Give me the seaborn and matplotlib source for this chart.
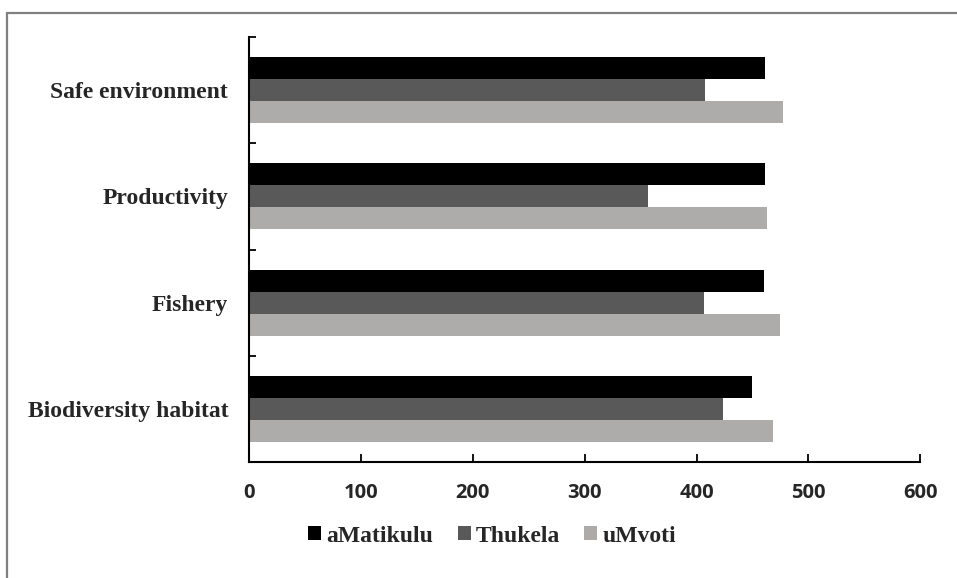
import matplotlib
matplotlib.use("Agg")
import matplotlib.pyplot as plt
from matplotlib.lines import Line2D
from matplotlib.patches import Patch
from matplotlib import font_manager
import seaborn as sns
import pandas as pd

categories = ["Safe environment", "Productivity", "Fishery", "Biodiversity habitat"]
series = ["aMatikulu", "Thukela", "uMvoti"]
amatikulu = [461, 461, 460, 450]
thukela = [408, 357, 407, 424]
umvoti = [477, 463, 475, 468]
x_ticks = [0, 100, 200, 300, 400, 500, 600]
colors = ["#000000", "#595959", "#AEAAAA"]

rows = []
for name, vals in zip(series, [amatikulu, thukela, umvoti]):
    for cat, v in zip(categories, vals):
        rows.append({"Category": cat, "Estuary": name, "Value": v})
df = pd.DataFrame(rows)

sns.set_style("white")
W, H = 957, 578
fig = plt.figure(figsize=(W / 100, H / 100), dpi=100)
ax = fig.add_axes([249 / W, 1 - 462 / H, (920.3 - 249) / W, (462 - 37) / H])

sns.barplot(data=df, y="Category", x="Value", hue="Estuary",
            order=categories, hue_order=series, palette=colors,
            orient="h", width=0.62, gap=0, ax=ax, legend=False,
            edgecolor="none", linewidth=0)

serif_bold = font_manager.FontProperties(family="Liberation Serif", weight="bold", size=17)
sans_bold = font_manager.FontProperties(family="Open Sans", weight="bold", size=14.5)

ax.set_xlim(0, 600)
ax.set_ylim(len(categories) - 0.5, -0.5)
ax.set_xticks(x_ticks)
ax.set_xticklabels([str(t) for t in x_ticks], fontproperties=sans_bold)
ax.set_yticks(range(len(categories)))
ax.set_yticklabels(categories, fontproperties=serif_bold)
ax.set_yticks([i - 0.5 for i in range(len(categories) + 1)], minor=True)
ax.tick_params(axis="y", which="major", length=0, pad=15)
ax.tick_params(axis="y", which="minor", direction="in", length=5,
               width=1.3, color="black", left=True)
ax.tick_params(axis="x", which="major", direction="in", length=5.5,
               width=1.3, color="black", pad=15, bottom=True)
ax.set_xlabel("")
ax.set_ylabel("")

for side in ["top", "right"]:
    ax.spines[side].set_visible(False)
for side in ["left", "bottom"]:
    ax.spines[side].set_color("black")
    ax.spines[side].set_linewidth(1.5)

handles = [Patch(facecolor=c, edgecolor="none") for c in colors]
fig.legend(handles, series, loc="center", bbox_to_anchor=(492 / W, 1 - 536 / H),
           ncol=3, frameon=False, handlelength=0.55, handleheight=0.55,
           handletextpad=0.2, columnspacing=1.05, prop=serif_bold)

# outer frame (left and top edges)
fig.add_artist(Line2D([7.5 / W, 7.5 / W], [0, 1 - 13 / H], transform=fig.transFigure,
                      color="#808080", linewidth=1.6))
fig.add_artist(Line2D([7.5 / W, 1], [1 - 13 / H, 1 - 13 / H], transform=fig.transFigure,
                      color="#808080", linewidth=1.6))

fig.savefig("out.png", dpi=100)
